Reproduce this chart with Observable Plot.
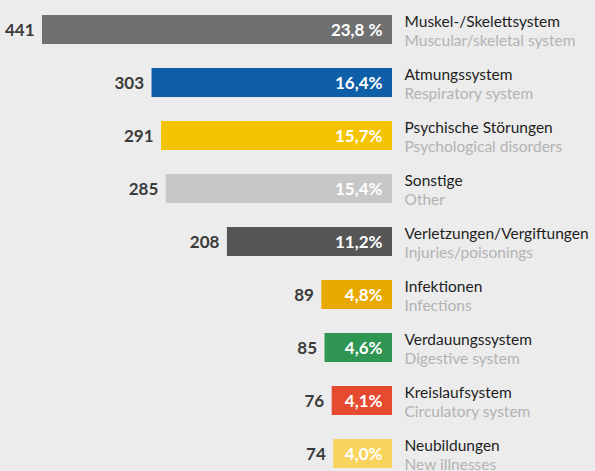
<!DOCTYPE html>
<html>
<head>
<meta charset="utf-8">
<script src="https://cdn.jsdelivr.net/npm/d3@7"></script>
<script src="https://cdn.jsdelivr.net/npm/@observablehq/plot@0.6"></script>
<style>
  html, body { margin: 0; padding: 0; background: #ececec; }
  #chart svg { display: block; }
</style>
</head>
<body>
<div id="chart"></div>
<script>
const categories = [
  "Muskel-/Skelettsystem",
  "Atmungssystem",
  "Psychische Störungen",
  "Sonstige",
  "Verletzungen/Vergiftungen",
  "Infektionen",
  "Verdauungssystem",
  "Kreislaufsystem",
  "Neubildungen"
];
const english = [
  "Muscular/skeletal system",
  "Respiratory system",
  "Psychological disorders",
  "Other",
  "Injuries/poisonings",
  "Infections",
  "Digestive system",
  "Circulatory system",
  "New illnesses"
];
const counts = [441, 303, 291, 285, 208, 89, 85, 76, 74];
const shares = ["23,8 %", "16,4%", "15,7%", "15,4%", "11,2%", "4,8%", "4,6%", "4,1%", "4,0%"];
const colors = ["#6f706f", "#0e5ea8", "#f5c400", "#c6c7c6", "#555655", "#e8a800", "#2e9652", "#e64a31", "#f8d45c"];

const data = categories.map((c, i) => ({
  cat: c, en: english[i], n: counts[i], pct: shares[i], color: colors[i]
}));

const font = "Lato, 'Open Sans', sans-serif";

const chart = Plot.plot({
  width: 595,
  height: 471,
  margin: 0,
  style: { background: "#ececec", fontFamily: font, overflow: "visible" },
  x: { domain: [0, 441], range: [392, 42], axis: null },
  y: { domain: categories, range: [15, 468], paddingInner: 24 / 53, paddingOuter: 0, axis: null },
  color: { type: "identity" },
  marks: [
    Plot.barX(data, { x1: 0, x2: "n", y: "cat", fill: "color" }),
    Plot.text(data, { x: "n", y: "cat", text: d => String(d.n), textAnchor: "end", dx: -8, dy: 1,
      fontWeight: 700, fontSize: 17, fill: "#3b3b3b" }),
    Plot.text(data, { x: 0, y: "cat", text: "pct", textAnchor: "end", dx: -10, dy: 1,
      fontWeight: 700, fontSize: 17, fill: "#ffffff" }),
    Plot.text(data, { x: 0, y: "cat", text: "cat", textAnchor: "start", dx: 12, dy: -8.3,
      fontSize: 15.5, fill: "#1e1e1e" }),
    Plot.text(data, { x: 0, y: "cat", text: "en", textAnchor: "start", dx: 12, dy: 10.7,
      fontSize: 15.5, fill: "#b3b3b3" })
  ]
});
document.getElementById("chart").appendChild(chart);
</script>
</body>
</html>
